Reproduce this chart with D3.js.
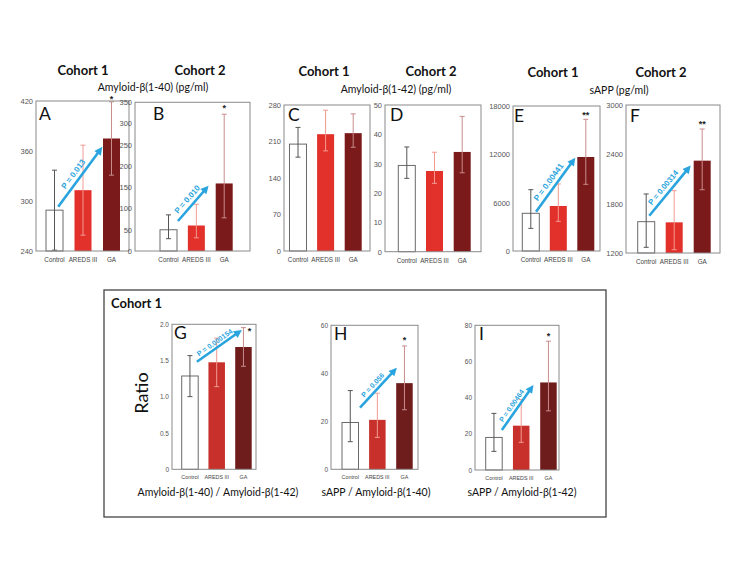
<!DOCTYPE html>
<html><head><meta charset="utf-8">
<script src="https://cdn.jsdelivr.net/npm/d3@7"></script>
<style>body{margin:0;background:#fff}</style>
</head><body><svg id="c" width="750" height="564"></svg>
<script>
const groups = ["Control", "AREDS III", "GA"];

// A: Amyloid-β(1-40), Cohort 1
const aMean = [289, 313, 375], aHi = [337, 367, 419], aLo = [241, 259, 331];
const aTicks = [240, 300, 360, 420];
// B: Amyloid-β(1-40), Cohort 2
const bMean = [50, 60, 159], bHi = [85, 110, 322], bLo = [29, 31, 78];
const bTicks = [0, 50, 100, 150, 200, 250, 300, 350];
// C: Amyloid-β(1-42), Cohort 1
const cMean = [205, 224, 226], cHi = [237, 270, 263], cLo = [180, 192, 199];
const cTicks = [0, 70, 140, 210, 280];
// D: Amyloid-β(1-42), Cohort 2
const dMean = [29.4, 27.5, 34], dHi = [35.7, 33.9, 46.1], dLo = [25, 23.3, 26.9];
const dTicks = [0, 10, 20, 30, 40, 50];
// E: sAPP, Cohort 1
const eMean = [4680, 5590, 11670], eHi = [7610, 8320, 16350], eLo = [2810, 3680, 8280];
const eTicks = [0, 6000, 12000, 18000];
// F: sAPP, Cohort 2
const fMean = [1581, 1573, 2323], fHi = [1918, 1958, 2708], fLo = [1269, 1240, 1970];
const fTicks = [1200, 1800, 2400, 3000];
// G: Aβ40 / Aβ42 ratio
const gMean = [1.287, 1.476, 1.687], gHi = [1.568, 1.81, 1.954], gLo = [1.002, 1.14, 1.421];
const gTicks = [0, 0.5, 1.0, 1.5, 2.0];
const gTickLabels = ["0", "0.5", "1.0", "1.5", "2.0"];
// H: sAPP / Aβ40
const hMean = [19.5, 20.6, 35.9], hHi = [32.8, 31.7, 51.4], hLo = [11.5, 13.3, 24.8];
const hTicks = [0, 20, 40, 60];
// I: sAPP / Aβ42
const iMean = [18, 24.5, 48.4], iHi = [31.3, 39, 71.2], iLo = [10.3, 15.3, 32.7];
const iTicks = [0, 20, 40, 60, 80];

const pA = "P = 0.013", pB = "P = 0.010", pE = "P = 0.00441", pF = "P = 0.00314";
const pG = "P = 0.000154", pH = "P = 0.056", pI = "P = 0.00464";

const svg = d3.select("#c");
const SANS = "Lato, 'Open Sans', sans-serif";
const ARIAL = "'Liberation Sans', Arial, sans-serif";
const BLUE = "#2aa4de";

const topFills = ["#ffffff", "#e2302a", "#7a1a1a"];
const botFills = ["#ffffff", "#c8302b", "#6e1c1c"];
const errCols = ["#555555", "#f29a92", "#c98c8c"];

function panel(c) {
  const g = svg.append("g");
  const [bx0, bx1, by0, by1] = c.box;
  const x = d3.scalePoint().domain(groups).range([c.bars[0] + c.bw / 2, c.bars[1] - c.bw / 2]);
  const y = d3.scaleLinear().domain(c.dom).range([by1, by0]);
  const data = groups.map((k, i) => ({k, i, m: c.mean[i], hi: c.hi[i], lo: c.lo[i]}));

  g.selectAll("rect.bar").data(data).join("rect")
    .attr("x", d => x(d.k) - c.bw / 2).attr("width", c.bw)
    .attr("y", d => y(d.m)).attr("height", d => y(c.dom[0]) - y(d.m))
    .attr("fill", d => c.fills[d.i])
    .attr("stroke", d => d.i === 0 ? "#6a6a6a" : "none").attr("stroke-width", 1);

  const eb = g.selectAll("g.err").data(data).join("g").attr("stroke", d => errCols[d.i]).attr("stroke-width", 1);
  eb.append("line").attr("x1", d => x(d.k)).attr("x2", d => x(d.k))
    .attr("y1", d => y(Math.max(d.lo, c.dom[0]))).attr("y2", d => y(Math.min(d.hi, c.dom[1])));
  eb.append("line").attr("x1", d => x(d.k) - 2.5).attr("x2", d => x(d.k) + 2.5)
    .attr("y1", d => y(Math.min(d.hi, c.dom[1]))).attr("y2", d => y(Math.min(d.hi, c.dom[1])));
  eb.append("line").attr("x1", d => x(d.k) - 2.5).attr("x2", d => x(d.k) + 2.5)
    .attr("y1", d => y(Math.max(d.lo, c.dom[0]))).attr("y2", d => y(Math.max(d.lo, c.dom[0])))
    .attr("display", d => d.lo <= c.dom[0] + 1e-9 ? "none" : null);

  g.append("rect").attr("x", bx0).attr("y", by0).attr("width", bx1 - bx0).attr("height", by1 - by0)
    .attr("fill", "none").attr("stroke", "#8a8a8a").attr("stroke-width", 1);

  const ax = d3.axisLeft(y).tickValues(c.ticks).tickSize(0).tickPadding(3)
    .tickFormat((d, i) => c.tickLabels ? c.tickLabels[i] : d3.format("d")(d));
  const ag = g.append("g").attr("transform", `translate(${bx0},0)`).call(ax);
  ag.select(".domain").remove();
  ag.selectAll("text").attr("font-family", ARIAL).attr("font-size", c.tfs).attr("fill", "#555");

  g.selectAll("text.xl").data(data).join("text")
    .attr("x", d => x(d.k)).attr("y", by1 + c.xlOff)
    .attr("text-anchor", "middle").attr("font-family", ARIAL).attr("font-size", c.xfs).attr("fill", "#444")
    .text(d => d.k);

  g.append("text").attr("x", c.letter[0]).attr("y", c.letter[1])
    .attr("font-family", SANS).attr("font-size", 17.5).attr("fill", "#111").text(c.name);

  if (c.star) {
    const d = data[2];
    g.append("text").attr("x", x(d.k) + c.star[1]).attr("y", y(Math.min(d.hi, c.dom[1])) + c.star[2])
      .attr("text-anchor", "middle").attr("font-family", ARIAL).attr("font-weight", "bold")
      .attr("font-size", 9).attr("fill", "#222").text(c.star[0]);
  }

  if (c.arrow) {
    const xi = d3.scaleLinear().domain([0, 2]).range([x(groups[0]), x(groups[2])]);
    const [i0, v0, i1, v1] = c.arrow.pts;
    const p0 = [xi(i0), y(v0)], p1 = [xi(i1), y(v1)];
    const dx = p1[0] - p0[0], dy = p1[1] - p0[1], L = Math.hypot(dx, dy);
    const ux = dx / L, uy = dy / L, nx = uy, ny = -ux;
    const hl = 8, hw = 4;
    const base = [p1[0] - ux * hl, p1[1] - uy * hl];
    g.append("line").attr("x1", p0[0]).attr("y1", p0[1]).attr("x2", base[0] + ux).attr("y2", base[1] + uy)
      .attr("stroke", BLUE).attr("stroke-width", 2.6);
    g.append("path").attr("d", `M${p1[0]},${p1[1]}L${base[0] + nx * hw},${base[1] + ny * hw}L${base[0] - nx * hw},${base[1] - ny * hw}Z`)
      .attr("fill", BLUE);
    const ang = Math.atan2(dy, dx) * 180 / Math.PI;
    const mx = (p0[0] + p1[0]) / 2 + nx * c.arrow.off + ux * c.arrow.shift;
    const my = (p0[1] + p1[1]) / 2 + ny * c.arrow.off + uy * c.arrow.shift;
    g.append("text").attr("transform", `translate(${mx},${my}) rotate(${ang})`)
      .attr("text-anchor", "middle").attr("dominant-baseline", "central")
      .attr("font-family", ARIAL).attr("font-weight", "bold").attr("font-size", c.arrow.fs)
      .attr("fill", BLUE).text(c.arrow.label);
  }
}

const TOP = {fills: topFills, tfs: 7.5, xfs: 6.3, xlOff: 11, bw: 17};
const BOT = {fills: botFills, tfs: 6.5, xfs: 5.4, xlOff: 9.5, bw: 16.5};

panel({...TOP, name: "A", box: [36, 129, 101, 251], bars: [46, 120], dom: [240, 420], ticks: aTicks,
  mean: aMean, hi: aHi, lo: aLo, letter: [39, 120], star: ["*", 0, 0.5],
  arrow: {pts: [0.13, 293, 1.68, 365], label: pA, fs: 8, off: 7, shift: -2}});
panel({...TOP, name: "B", box: [135, 250, 102.3, 251], bars: [160, 232.7], dom: [0, 350], ticks: bTicks,
  mean: bMean, hi: bHi, lo: bLo, letter: [153, 120], star: ["*", 0, -3],
  arrow: {pts: [0.34, 70.6, 1.44, 153.7], label: pB, fs: 8, off: 7, shift: -1}});
panel({...TOP, name: "C", box: [284, 370, 105, 251], bars: [289.5, 361.7], dom: [0, 280], ticks: cTicks,
  mean: cMean, hi: cHi, lo: cLo, letter: [288, 121]});
panel({...TOP, name: "D", box: [385, 481, 105, 251.7], bars: [398.3, 470.7], dom: [0, 50], ticks: dTicks,
  mean: dMean, hi: dHi, lo: dLo, letter: [390, 121]});
panel({...TOP, name: "E", box: [513, 600, 106, 251], bars: [522.3, 594.3], dom: [0, 18000], ticks: eTicks,
  mean: eMean, hi: eHi, lo: eLo, letter: [514, 121.7], star: ["**", 0, -1],
  arrow: {pts: [0.19, 4879, 1.62, 11582], label: pE, fs: 8.2, off: 7, shift: -2}});
panel({...TOP, name: "F", box: [626, 720, 105, 253], bars: [637.7, 710.7], dom: [1200, 3000], ticks: fTicks,
  mean: fMean, hi: fHi, lo: fLo, letter: [630, 121.7], star: ["**", 0, -2],
  arrow: {pts: [0.11, 1653, 1.59, 2265], label: pF, fs: 7.8, off: 7, shift: -2}});

panel({...BOT, name: "G", box: [172, 256, 324.3, 469.3], bars: [181.7, 251.7], dom: [0, 2], ticks: gTicks, tickLabels: gTickLabels,
  mean: gMean, hi: gHi, lo: gLo, letter: [174, 338.5], star: ["*", 6, 6],
  arrow: {pts: [0.26, 1.484, 1.94, 1.921], label: pG, fs: 7, off: 5.5, shift: -2}});
panel({...BOT, name: "H", box: [331, 418, 325.3, 469.3], bars: [342, 412.7], dom: [0, 60], ticks: hTicks,
  mean: hMean, hi: hHi, lo: hLo, letter: [334, 340], star: ["*", 0, -3],
  arrow: {pts: [0.36, 25.7, 1.72, 42.3], label: pH, fs: 7, off: 6, shift: -2}});
panel({...BOT, name: "I", box: [475, 559, 325.3, 470], bars: [485.7, 556.7], dom: [0, 80], ticks: iTicks,
  mean: iMean, hi: iHi, lo: iLo, letter: [479, 340], star: ["*", 0, -2],
  arrow: {pts: [0.29, 22.1, 1.45, 47], label: pI, fs: 7, off: 6, shift: -2}});

// Titles
const titles = [
  {t: "Cohort 1", x: 83, y: 75}, {t: "Cohort 2", x: 200, y: 75},
  {t: "Cohort 1", x: 324, y: 76}, {t: "Cohort 2", x: 431, y: 76},
  {t: "Cohort 1", x: 553, y: 77}, {t: "Cohort 2", x: 661, y: 77}];
svg.selectAll("text.ct").data(titles).join("text").attr("x", d => d.x).attr("y", d => d.y)
  .attr("text-anchor", "middle").attr("font-family", SANS).attr("font-weight", "bold")
  .attr("font-size", 13).attr("fill", "#111").text(d => d.t);

const subs = [
  {t: "Amyloid-β(1-40) (pg/ml)", x: 153, y: 90.5}, {t: "Amyloid-β(1-42) (pg/ml)", x: 396, y: 93},
  {t: "sAPP (pg/ml)", x: 619, y: 94},
  {t: "Amyloid-β(1-40) / Amyloid-β(1-42)", x: 218, y: 496}, {t: "sAPP / Amyloid-β(1-40)", x: 376, y: 496},
  {t: "sAPP / Amyloid-β(1-42)", x: 522, y: 496}];
svg.selectAll("text.st").data(subs).join("text").attr("x", d => d.x).attr("y", d => d.y)
  .attr("text-anchor", "middle").attr("font-family", SANS)
  .attr("font-size", 10.5).attr("fill", "#111").text(d => d.t);

svg.append("rect").attr("x", 104).attr("y", 290).attr("width", 502).attr("height", 227)
  .attr("fill", "none").attr("stroke", "#444").attr("stroke-width", 1.3);
svg.append("text").attr("x", 111).attr("y", 308).attr("font-family", SANS).attr("font-weight", "bold")
  .attr("font-size", 13).attr("fill", "#111").text("Cohort 1");
svg.append("text").attr("transform", "translate(148,393) rotate(-90)").attr("text-anchor", "middle")
  .attr("font-family", SANS).attr("font-size", 18).attr("fill", "#111").text("Ratio");
</script></body></html>
